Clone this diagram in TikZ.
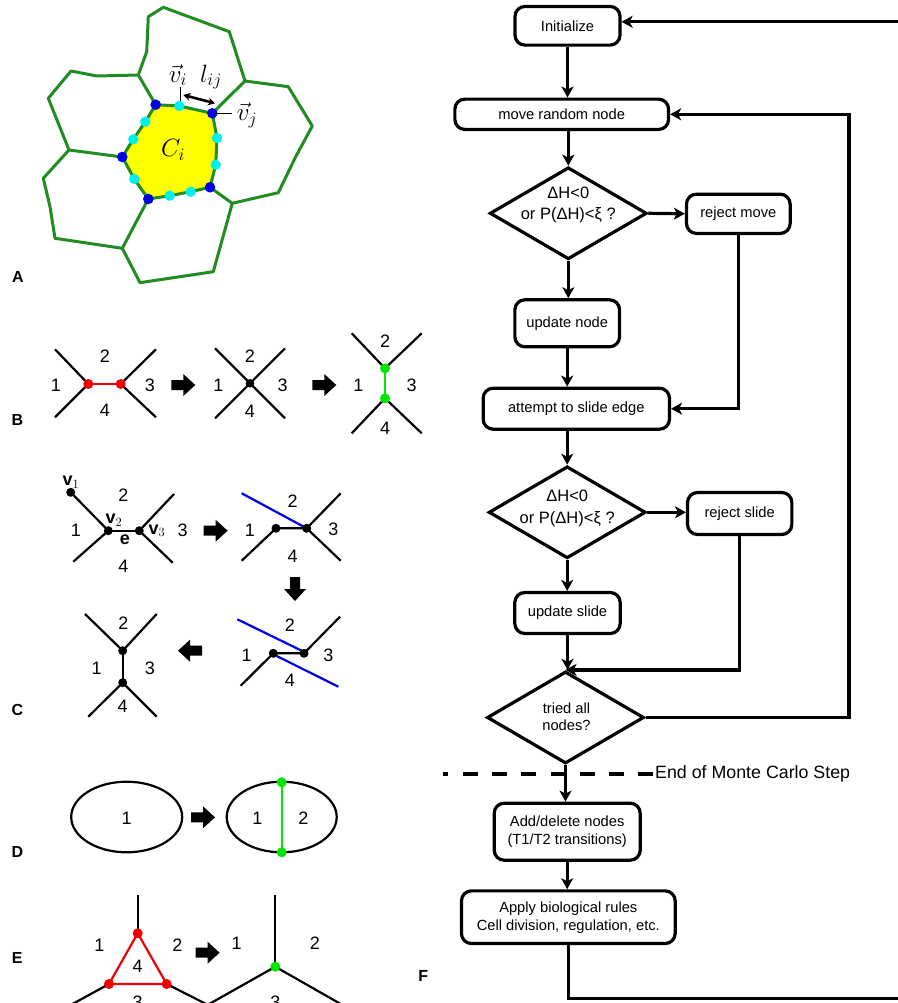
\RequirePackage{fix-cm}
\documentclass[tikz,border=0pt]{standalone}
\usepackage{fontspec}
\setmainfont{Liberation Sans}
\usetikzlibrary{shapes.geometric,arrows.meta}
\definecolor{cellgreen}{RGB}{34,139,34}
\definecolor{cellyellow}{RGB}{255,255,0}
\definecolor{vblue}{RGB}{0,0,230}
\definecolor{vcyan}{RGB}{0,240,240}
\definecolor{tgreen}{RGB}{0,230,0}
\definecolor{tred}{RGB}{240,0,0}
\definecolor{lineblue}{RGB}{0,0,235}
\begin{document}
\begin{tikzpicture}[x=1pt,y=-1pt,
  cellline/.style={draw=cellgreen,line width=3pt,line join=round},
  edgeline/.style={line width=2.2pt},
  num/.style={font=\fontsize{18}{20}\selectfont,inner sep=0pt},
  panel/.style={font=\fontsize{16}{18}\selectfont\bfseries,inner sep=0pt},
  mathlbl/.style={font=\fontsize{25}{28}\selectfont,inner sep=0pt},
  vlbl/.style={font=\fontsize{18}{20}\selectfont,inner sep=0pt},
  box/.style={draw,line width=3.2pt,rounded corners=10pt,align=center,inner sep=0pt,font=\fontsize{14.7}{18}\selectfont},
  dec/.style={diamond,draw,line width=3.2pt,inner sep=0pt,minimum width=157pt,minimum height=92pt},
  dectext/.style={align=center,inner sep=0pt},
  flowline/.style={line width=3.2pt},
  flowarrow/.style={line width=3.2pt,-{Stealth[length=11pt,width=12pt,inset=3pt]}},
  barrow/.pic={\fill (-12,-5) -- (0,-5) -- (0,-11) -- (12,0) -- (0,11) -- (0,5) -- (-12,5) -- cycle;}
]
\fill[white] (0,0) rectangle (897,1003);
\useasboundingbox (0,0) rectangle (897,1003);

% ---------------- Panel A ----------------
\coordinate (P1) at (155.7,104.7);
\coordinate (P2) at (212.3,113.3);
\coordinate (P3) at (210,187.3);
\coordinate (P4) at (148.3,199);
\coordinate (P5) at (122.3,157);
\coordinate (Q1) at (138.3,75);
\coordinate (Q2) at (245,81);
\coordinate (Q3) at (232.3,203.3);
\coordinate (Q4) at (122.3,248.3);
\coordinate (Q5) at (69,150);
\fill[cellyellow] (P1) -- (179.3,106) -- (P2) -- (217,138) -- (215.7,164.7) -- (P3) -- (190.7,191.7) -- (169.7,195.7) -- (P4) -- (134.3,179) -- (P5) -- (133.3,139.3) -- (145.3,121.7) -- cycle;
\draw[cellline] (P1) -- (179.3,106) -- (P2) -- (217,138) -- (215.7,164.7) -- (P3) -- (190.7,191.7) -- (169.7,195.7) -- (P4) -- (134.3,179) -- (P5) -- (133.3,139.3) -- (145.3,121.7) -- cycle;
\draw[cellline] (P1) -- (Q1) -- (146.7,51.7) -- (148.3,16.7) -- (163.3,7.3) -- (229.3,31.7) -- (Q2) -- (P2);
\draw[cellline] (Q2) -- (288.3,86.7) -- (312.3,126) -- (295.7,156.7) -- (278.3,192.7) -- (Q3) -- (P3);
\draw[cellline] (Q3) -- (213.3,271.7) -- (140,282.7) -- (Q4) -- (P4);
\draw[cellline] (Q4) -- (55,238.3) -- (50,206.7) -- (43.3,178.3) -- (Q5) -- (P5);
\draw[cellline] (Q5) -- (48.3,98.3) -- (71,71) -- (96.7,76) -- (Q1);
\foreach \p in {(179.3,106),(217,138),(215.7,164.7),(190.7,191.7),(169.7,195.7),(134.3,179),(133.3,139.3),(145.3,121.7)}
  \fill[vcyan] \p circle (5.2);
\foreach \p in {P1,P2,P3,P4,P5}
  \fill[vblue] (\p) circle (5.3);
\node[mathlbl] (vi) at (178,75) {$\vec{v}_i$};
\draw[line width=1pt] (180,87) -- (180,101);
\node[mathlbl] (lij) at (211,77) {$l_{ij}$};
\draw[line width=2.6pt,{Stealth[length=7pt,width=8pt]}-{Stealth[length=7pt,width=8pt]}] (183.3,95) -- (215,103.3);
\node[mathlbl] (vj) at (247,115) {$\vec{v}_j$};
\draw[line width=1pt] (214,113.3) -- (232,113.3);
\node[mathlbl] (Ci) at (173,150) {$C_i$};
\node[panel] (labA) at (18,277) {A};

% ---------------- Panel B ----------------
\node[panel] (labB) at (17.3,420) {B};
\draw[edgeline] (55,349.3) -- (88.3,384) -- (55,417.3);
\draw[edgeline] (156,349.3) -- (120.7,384) -- (156,417.3);
\draw[edgeline,tred] (88.3,384) -- (120.7,384);
\fill[tred] (88.3,384) circle (5) (120.7,384) circle (5);
\node[num] (b11) at (56,385) {1};
\node[num] (b12) at (105,356.7) {2};
\node[num] (b13) at (150,385) {3};
\node[num] (b14) at (105,410) {4};
\pic at (183.3,385) {barrow};
\draw[edgeline] (215,348.3) -- (285,418.3);
\draw[edgeline] (285,348.3) -- (215,418.3);
\fill (250,383.3) circle (4.3);
\node[num] (b21) at (218.3,385) {1};
\node[num] (b22) at (250,356.7) {2};
\node[num] (b23) at (282.7,385) {3};
\node[num] (b24) at (250,411.7) {4};
\pic at (324.3,385) {barrow};
\draw[edgeline] (351.7,333.3) -- (385,368.3) -- (421.7,333.3);
\draw[edgeline] (351.7,433.3) -- (385,398.3) -- (421.7,433.3);
\draw[edgeline,tgreen] (385,368.3) -- (385,398.3);
\fill[tgreen] (385,368.3) circle (5) (385,398.3) circle (5);
\node[num] (b31) at (358.3,385) {1};
\node[num] (b32) at (385,341.7) {2};
\node[num] (b33) at (411.7,385) {3};
\node[num] (b34) at (385,428.3) {4};

% ---------------- Panel C ----------------
\node[panel] (labC) at (17.3,710) {C};
\draw[edgeline] (70.7,492.3) -- (108.3,530.7) -- (73.3,561.7);
\draw[edgeline] (108.3,530.7) -- (139.3,530.7);
\draw[edgeline] (174,494) -- (139.3,530.7) -- (172.7,562.7);
\fill (70.7,492.3) circle (4.5) (108.3,530.7) circle (4.5) (139.3,530.7) circle (4.5);
\node[vlbl] (v1) at (71,482) {$\mathbf{v}_1$};
\node[vlbl] (v2) at (114,520) {$\mathbf{v}_2$};
\node[vlbl] (ee) at (125,540) {$\mathbf{e}$};
\node[vlbl] (v3) at (157,530.7) {$\mathbf{v}_3$};
\node[num] (c11) at (76,530.7) {1};
\node[num] (c12) at (123.3,495) {2};
\node[num] (c13) at (182.7,530.7) {3};
\node[num] (c14) at (123.3,566.7) {4};
\pic at (215.6,530.7) {barrow};
\draw[edgeline,lineblue] (241.7,493.3) -- (306.7,528.3);
\draw[edgeline] (241.7,560.7) -- (276,528.3) -- (306.7,528.3);
\draw[edgeline] (340.7,493.3) -- (306.7,528.3) -- (340.7,560.7);
\fill (276,528.3) circle (4.5) (306.7,528.3) circle (4.5);
\node[num] (c21) at (250,530) {1};
\node[num] (c22) at (292.7,501.7) {2};
\node[num] (c23) at (333.3,529.3) {3};
\node[num] (c24) at (292.7,556) {4};
\pic[rotate=-90] at (295,589) {barrow};
\draw[edgeline,lineblue] (237.3,619.3) -- (301.7,650.7);
\draw[edgeline,lineblue] (276.7,656) -- (338.3,686.7);
\draw[edgeline] (240.7,685.7) -- (273.3,653.3) -- (304,653.3) -- (340,616.7);
\fill (273.3,653.3) circle (4.5) (304,653.3) circle (4.5);
\node[num] (c31) at (246.7,655) {1};
\node[num] (c32) at (290,625) {2};
\node[num] (c33) at (328.3,655) {3};
\node[num] (c34) at (290,680) {4};
\pic[rotate=180] at (190,650.7) {barrow};
\draw[edgeline] (85,614) -- (122.7,650.7) -- (156.7,614);
\draw[edgeline] (122.7,650.7) -- (122.7,682.7);
\draw[edgeline] (88.3,716.7) -- (122.7,682.7) -- (156.7,716.7);
\fill (122.7,650.7) circle (4.5) (122.7,682.7) circle (4.5);
\node[num] (c41) at (96.7,668.3) {1};
\node[num] (c42) at (123.3,623.3) {2};
\node[num] (c43) at (150,668.3) {3};
\node[num] (c44) at (122.7,706.7) {4};

% ---------------- Panel D ----------------
\node[panel] (labD) at (17.3,851.7) {D};
\draw[edgeline] (126.7,817) ellipse [x radius=55.5, y radius=35.3];
\node[num] (d11) at (126.7,818) {1};
\pic at (203,817.3) {barrow};
\draw[edgeline] (281.7,817) ellipse [x radius=55, y radius=35.3];
\draw[edgeline,tgreen] (281.7,782.3) -- (281.7,852.3);
\fill[tgreen] (281.7,782.3) circle (5) (281.7,852.3) circle (5);
\node[num] (d21) at (257.3,818.3) {1};
\node[num] (d22) at (303.3,818.3) {2};

% ---------------- Panel E ----------------
\node[panel] (labE) at (17.3,958.3) {E};
\draw[edgeline] (137.7,895) -- (137.7,933.3);
\draw[edgeline] (109,984) -- (60.5,1010.6);
\draw[edgeline] (166.7,984) -- (219.2,1010.6);
\draw[edgeline,tred] (137.7,933.3) -- (109,984) -- (166.7,984) -- cycle;
\fill[tred] (137.7,933.3) circle (5) (109,984) circle (5) (166.7,984) circle (5);
\node[num] (e11) at (99.3,945) {1};
\node[num] (e12) at (177.3,945) {2};
\node[num] (e14) at (137.7,966) {4};
\node[num] (e13) at (137.7,1002) {3};
\pic at (207.6,952.7) {barrow};
\draw[edgeline] (275.3,895) -- (275.3,966.7);
\draw[edgeline] (194.7,1012.2) -- (275.3,966.7) -- (355.1,1012.2);
\fill[tgreen] (275.3,966.7) circle (5);
\node[num] (e21) at (236.7,943.3) {1};
\node[num] (e22) at (315,943.3) {2};
\node[num] (e23) at (275.3,1002) {3};

% ---------------- Panel F (flowchart) ----------------
\node[panel] (labF) at (423.3,976) {F};
\node[box,minimum width=105pt,minimum height=38.7pt] (init) at (567.5,25.8) {Initialize};
\node[box,minimum width=213.7pt,minimum height=30.3pt] (move) at (561.7,114.3) {move random node};
\node[dec] (d1) at (568.3,213.3) {};
\node[dectext,font=\fontsize{16.5}{21.5}\selectfont] (d1t) at (568.3,205) {ΔH<0\\or P(ΔH)<ξ ?};
\node[box,minimum width=103.7pt,minimum height=39.3pt] (rejm) at (738.3,213.8) {reject move};
\node[box,minimum width=104.7pt,minimum height=47pt] (un) at (567.2,323.3) {update node};
\node[box,minimum width=186.3pt,minimum height=41pt] (att) at (576.3,408.7) {attempt to slide edge};
\node[dec] (d2) at (567.2,512.3) {};
\node[dectext,font=\fontsize{16.5}{21.5}\selectfont] (d2t) at (567.2,508.3) {ΔH<0\\or P(ΔH)<ξ ?};
\node[box,minimum width=104.3pt,minimum height=42pt] (rejs) at (739.7,513.5) {reject slide};
\node[box,minimum width=105.4pt,minimum height=41pt] (us) at (567.5,613) {update slide};
\node[dec] (d3) at (565.5,717.5) {};
\node[dectext,font=\fontsize{14.7}{17.3}\selectfont] (d3t) at (566.5,717) {tried all\\nodes?};
\node[box,minimum width=146pt,minimum height=57pt] (add) at (567.2,831.7) {Add/delete nodes\\(T1/T2 transitions)};
\node[box,minimum width=213.7pt,minimum height=52.7pt] (apply) at (568.3,917.2) {Apply biological rules\\Cell division, regulation, etc.};
\node[inner sep=0pt,anchor=west,font=\fontsize{17.8}{20}\selectfont] (mcs) at (655,774) {End of Monte Carlo Step};
\coordinate (dashL) at (443.3,774);
\coordinate (loopR) at (849,0);
\coordinate (farB) at (940,998.3);

\draw[flowline,dash pattern=on 15pt off 14.3pt,dash phase=10pt] (dashL) -- (mcs.west);
\draw[flowarrow] (init.south) -- (init.south |- move.north);
\draw[flowarrow] (d1.north |- move.south) -- (d1.north);
\draw[flowarrow] (d1.east) -- (rejm.west);
\draw[flowarrow] (d1.south) -- (d1.south |- un.north);
\draw[flowarrow] (un.south) -- (un.south |- att.north);
\draw[flowarrow] (d2.north |- att.south) -- (d2.north);
\draw[flowarrow] (d2.east) -- (d2.east -| rejs.west);
\draw[flowarrow] (d2.south) -- (d2.south |- us.north);
\draw[flowarrow] (us.south) -- (us.south |- d3.north);
\draw[flowarrow] (rejm.south) |- (att.east);
\draw[flowarrow] (rejs.south) |- (d3.north);
\draw[flowarrow] (d3.east) -- (loopR |- d3.east) -- (loopR |- move.east) -- (move.east);
\draw[flowarrow] (d3.south) -- (d3.south |- add.north);
\draw[flowarrow] (add.south) -- (add.south |- apply.north);
\draw[flowarrow] (apply.south) |- (farB) |- ([yshift=4pt]init.east);
\end{tikzpicture}
\end{document}
